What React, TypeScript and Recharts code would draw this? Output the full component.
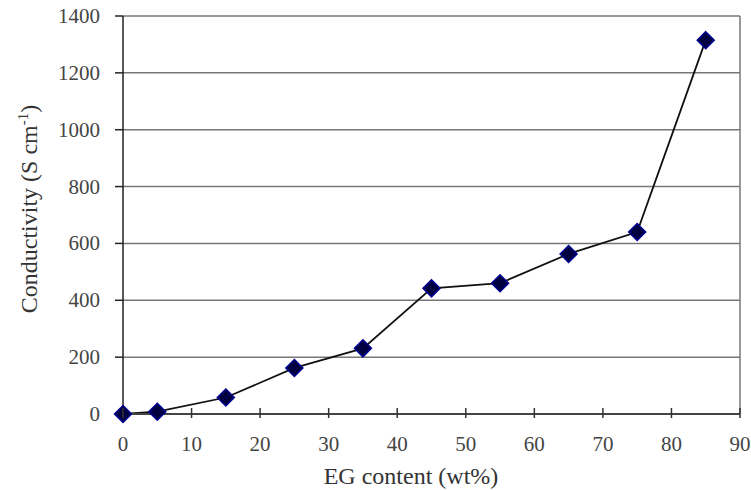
import { CartesianGrid, Line, LineChart, ReferenceLine, XAxis, YAxis } from "recharts";

const egContent = [0, 5, 15, 25, 35, 45, 55, 65, 75, 85];
const conductivity = [0, 8, 58, 162, 231, 442, 460, 563, 640, 1315];
const xTicks = [0, 10, 20, 30, 40, 50, 60, 70, 80, 90];
const yTicks = [0, 200, 400, 600, 800, 1000, 1200, 1400];

const data = egContent.map((x, i) => ({ x, y: conductivity[i] }));

const font = "'Liberation Serif', 'Times New Roman', serif";

const Diamond = (props: any) => {
  const { cx, cy } = props;
  if (cx == null || cy == null) return null;
  const r = 8.5;
  return (
    <polygon
      points={`${cx},${cy - r} ${cx + r},${cy} ${cx},${cy + r} ${cx - r},${cy}`}
      fill="#000040"
      stroke="#000090"
      strokeWidth={1.5}
    />
  );
};

const XTick = (props: any) => {
  const { x, y, payload } = props;
  return (
    <g>
      <line x1={x} x2={x} y1={y - 6} y2={y + 4} stroke="#333" strokeWidth={1.5} />
      <text x={x} y={y + 37} textAnchor="middle" style={{ fontFamily: font }} fontSize={21} fill="#444">
        {payload.value}
      </text>
    </g>
  );
};

const YTick = (props: any) => {
  const { x, y, payload } = props;
  return (
    <text x={x} y={y + 7} textAnchor="end" style={{ fontFamily: font }} fontSize={21} fill="#444">
      {payload.value}
    </text>
  );
};

const YLabel = () => (
  <text
    transform="translate(37, 209) rotate(-90)"
    textAnchor="middle"
    style={{ fontFamily: font }}
    fontSize={24}
    fill="#333"
  >
    Conductivity (S cm
    <tspan dy={-9} fontSize={15}>-1</tspan>
    <tspan dy={9}>)</tspan>
  </text>
);

const XLabel = () => (
  <text x={411} y={484} textAnchor="middle" style={{ fontFamily: font }} fontSize={24} fill="#333">
    EG content (wt%)
  </text>
);

export default function App() {
  return (
    <div style={{ position: "absolute", left: 0, top: 0, width: 751, height: 490, background: "#fff" }}>
      <LineChart width={751} height={490} data={data} margin={{ top: 16, right: 11, left: 0, bottom: 0 }}>
        <CartesianGrid vertical={false} stroke="#777" strokeWidth={1.5} />
        <XAxis
          dataKey="x"
          type="number"
          domain={[0, 90]}
          ticks={xTicks}
          height={76}
          tickSize={0}
          tickMargin={0}
          tick={<XTick />}
          stroke="#444"
          strokeWidth={2}
          label={<XLabel />}
        />
        <YAxis
          dataKey="y"
          type="number"
          domain={[0, 1400]}
          ticks={yTicks}
          width={123}
          tickSize={8}
          tickMargin={15}
          stroke="#222"
          strokeWidth={1.5}
          tick={<YTick />}
          label={<YLabel />}
        />
        <ReferenceLine x={90} stroke="#777" strokeWidth={1.5} />
        <Line
          dataKey="y"
          stroke="#111"
          strokeWidth={1.8}
          dot={<Diamond />}
          activeDot={false}
          isAnimationActive={false}
        />
      </LineChart>
    </div>
  );
}
